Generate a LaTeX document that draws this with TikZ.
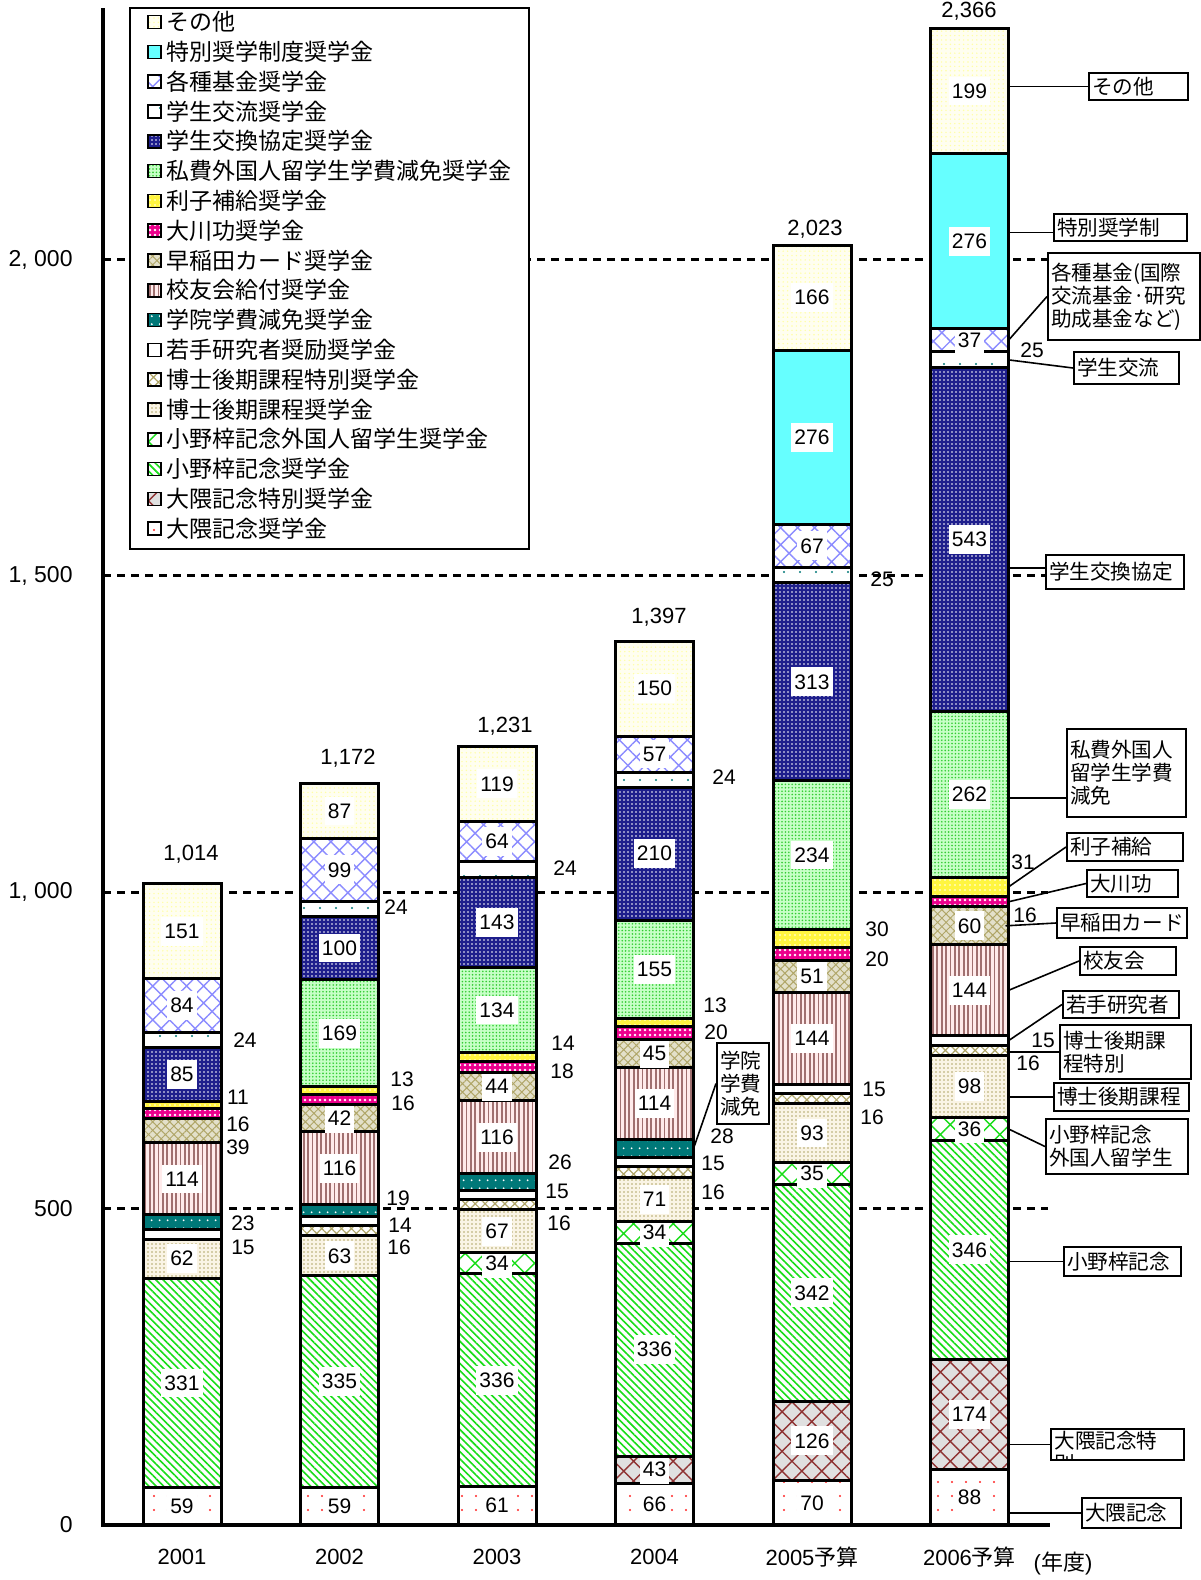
\documentclass[tikz,border=0pt]{standalone}
\usepackage{fontspec}
\setmainfont{Liberation Sans}
\newfontfamily\jp{Noto Sans CJK JP}
\usetikzlibrary{patterns.meta,positioning}

\definecolor{tokuc}{RGB}{102,255,255}
\definecolor{navyc}{RGB}{30,30,140}
\definecolor{tealc}{RGB}{0,120,120}
\definecolor{khakic}{RGB}{176,166,104}
\definecolor{brownc}{RGB}{160,112,112}

\tikzset{
  seg/.style={draw=black, line width=1.5pt},
  gridline/.style={line width=1.5pt, dash pattern=on 4pt off 3pt},
  axisline/.style={line width=2pt},
  numlbl/.style={fill=white, inner xsep=1.5pt, inner ysep=3.5pt, font=\fontsize{10.5}{12}\selectfont},
  sidelbl/.style={inner sep=0pt, font=\fontsize{10.5}{12}\selectfont},
  bigtxt/.style={inner sep=0pt, font=\fontsize{11}{13}\selectfont},
  legtext/.style={anchor=west, inner sep=0pt, font=\jp\fontsize{11.5}{13}\selectfont},
  calltext/.style={inner sep=0pt, align=left, font=\jp\fontsize{10.3}{11.5}\selectfont},
  cbox/.style 2 args={draw, line width=1pt, fill=white, anchor=north west, align=left,
    inner xsep=1.5pt, inner ysep=1pt, text width=#1, minimum height=#2,
    font=\jp\fontsize{10.3}{11.5}\selectfont},
  link/.style={line width=0.8pt},
  % fills of the scholarship kinds
  okuma/.style={preaction={fill=white}, pattern={Dots[distance=7pt,radius=0.6pt]}, pattern color=red!85},
  okumatoku/.style={preaction={fill=black!12}, pattern={Hatch[angle=45,distance=7pt,line width=0.7pt]}, pattern color=red!45!black!80},
  ono/.style={preaction={fill=white}, pattern={Lines[angle=-45,distance=2.6pt,line width=0.8pt]}, pattern color=green!85!black!90},
  onoint/.style={preaction={fill=white}, pattern={Hatch[angle=45,distance=7pt,line width=0.7pt]}, pattern color=green!85!black!90},
  hakase/.style={preaction={fill=yellow!30!brown!12}, pattern={Dots[distance=2pt,radius=0.45pt]}, pattern color=khakic},
  hakasetoku/.style={preaction={fill=white}, pattern={Hatch[angle=45,distance=3.5pt,line width=0.6pt]}, pattern color=khakic},
  wakate/.style={fill=white},
  gakuin/.style={preaction={fill=tealc}, pattern={Dots[distance=4pt,radius=0.55pt]}, pattern color=white},
  koyu/.style={preaction={fill=red!8!white}, pattern={Lines[angle=90,distance=2.2pt,line width=0.9pt]}, pattern color=brownc},
  card/.style={preaction={fill=khakic!35!white}, pattern={Hatch[angle=45,distance=3pt,line width=0.5pt]}, pattern color=khakic},
  okawa/.style={preaction={fill=magenta}, pattern={Dots[distance=2.5pt,radius=0.65pt]}, pattern color=white},
  rishi/.style={preaction={fill=yellow!75!white}, pattern={Dots[distance=2.5pt,radius=0.4pt]}, pattern color=white},
  shihi/.style={preaction={fill=green!22!white}, pattern={Dots[distance=1.7pt,radius=0.45pt]}, pattern color=green!75!black!80},
  kokan/.style={preaction={fill=navyc}, pattern={Dots[distance=2pt,radius=0.4pt]}, pattern color=white},
  koryu/.style={preaction={fill=white}, pattern={Dots[distance=8pt,radius=0.6pt]}, pattern color=tealc},
  kikin/.style={preaction={fill=white}, pattern={Hatch[angle=45,distance=6pt,line width=0.7pt]}, pattern color=blue!45!white},
  tokusho/.style={fill=tokuc},
  sonota/.style={preaction={fill=yellow!6!white}, pattern={Dots[distance=2.2pt,radius=0.4pt]}, pattern color=yellow!35!white},
}

% #1 name, #2 left x, #3 value/style/inner label
\newcommand{\stackbar}[3]{%
  \gdef\cumval{0}%
  \foreach \v/\s/\f in {#3} {%
    \pgfmathsetmacro\ylo{1525-0.6327*\cumval}%
    \pgfmathsetmacro\newcum{\cumval+\v}%
    \pgfmathsetmacro\yhi{1525-0.6327*\newcum}%
    \draw[seg, \s] (#2,\ylo) rectangle (#2+78,\yhi);
    \coordinate (#1-\s) at (#2+78, {(\ylo+\yhi)/2});
    \ifnum\f=1\relax
      \node[numlbl] (#1-\s-n) at (#2+39, {(\ylo+\yhi)/2}) {\v};
    \fi
    \xdef\cumval{\newcum}%
  }%
}

\begin{document}
\begin{tikzpicture}[x=0.5pt, y=-0.5pt]
  \useasboundingbox (0,0) rectangle (1200,1580);

  % grid and ticks
  \foreach \v/\t in {0/0, 500/500, 1000/{1, 000}, 1500/{1, 500}, 2000/{2, 000}} {
    \node[bigtxt, anchor=east, font=\fontsize{11.5}{13}\selectfont] (tick\v) at (73, {1525-0.6327*\v}) {\t};
  }
  \foreach \v in {500,1000,1500,2000} {
    \draw[gridline] (103, {1525-0.6327*\v}) -- (1048, {1525-0.6327*\v});
  }

  % bars
  \stackbar{y1}{143}{59/okuma/1, 331/ono/1, 62/hakase/1, 15/wakate/0, 23/gakuin/0, 114/koyu/1, 39/card/0, 16/okawa/0, 11/rishi/0, 85/kokan/1, 24/koryu/0, 84/kikin/1, 151/sonota/1}
  \stackbar{y2}{300.5}{59/okuma/1, 335/ono/1, 63/hakase/1, 16/hakasetoku/0, 14/wakate/0, 19/gakuin/0, 116/koyu/1, 42/card/1, 16/okawa/0, 13/rishi/0, 169/shihi/1, 100/kokan/1, 24/koryu/0, 99/kikin/1, 87/sonota/1}
  \stackbar{y3}{458}{61/okuma/1, 336/ono/1, 34/onoint/1, 67/hakase/1, 16/hakasetoku/0, 15/wakate/0, 26/gakuin/0, 116/koyu/1, 44/card/1, 18/okawa/0, 14/rishi/0, 134/shihi/1, 143/kokan/1, 24/koryu/0, 64/kikin/1, 119/sonota/1}
  \stackbar{y4}{615.5}{66/okuma/1, 43/okumatoku/1, 336/ono/1, 34/onoint/1, 71/hakase/1, 16/hakasetoku/0, 15/wakate/0, 28/gakuin/0, 114/koyu/1, 45/card/1, 20/okawa/0, 13/rishi/0, 155/shihi/1, 210/kokan/1, 24/koryu/0, 57/kikin/1, 150/sonota/1}
  \stackbar{y5}{773}{70/okuma/1, 126/okumatoku/1, 342/ono/1, 35/onoint/1, 93/hakase/1, 16/hakasetoku/0, 15/wakate/0, 144/koyu/1, 51/card/1, 20/okawa/0, 30/rishi/0, 234/shihi/1, 313/kokan/1, 25/koryu/0, 67/kikin/1, 276/tokusho/1, 166/sonota/1}
  \stackbar{y6}{930.5}{88/okuma/1, 174/okumatoku/1, 346/ono/1, 36/onoint/1, 98/hakase/1, 16/hakasetoku/0, 15/wakate/0, 144/koyu/1, 60/card/1, 16/okawa/0, 31/rishi/0, 262/shihi/1, 543/kokan/1, 25/koryu/0, 37/kikin/1, 276/tokusho/1, 199/sonota/1}

  % axes
  \draw[axisline] (103,8) -- (103,1527);
  \draw[axisline] (101,1525) -- (1050,1525);

  % small values beside the bars
  \foreach \t/\x/\y [count=\k] in {24/245/1040, 11/238/1097, 16/238/1124, 39/238/1147, 23/243/1223, 15/243/1247,
      24/396/907, 13/402/1079, 16/403/1103, 19/398/1198, 14/400/1225, 16/399/1247,
      24/565/868, 14/563/1043, 18/562/1071, 26/560/1162, 15/557/1191, 16/559/1223,
      24/724/777, 13/715/1005, 20/716/1032, 28/722/1136, 15/713/1163, 16/713/1192,
      25/882/579, 30/877/929, 20/877/959, 15/874/1089, 16/872/1117,
      25/1032/350, 31/1023/862, 16/1025/915, 15/1043/1040, 16/1028/1063} {
    \node[sidelbl] (side\k) at (\x,\y) {\t};
  }

  % totals and years
  \node[bigtxt] (tot1) at (191,854) {1,014};
  \node[bigtxt] (tot2) at (348,758) {1,172};
  \node[bigtxt] (tot3) at (505,726) {1,231};
  \node[bigtxt] (tot4) at (659,617) {1,397};
  \node[bigtxt] (tot5) at (815,229) {2,023};
  \node[bigtxt] (tot6) at (969,11) {2,366};
  \node[bigtxt] (yr1) at (182,1557) {2001};
  \node[bigtxt] (yr2) at (339.5,1557) {2002};
  \node[bigtxt] (yr3) at (497,1557) {2003};
  \node[bigtxt] (yr4) at (654.5,1557) {2004};
  \node[bigtxt] (yr5) at (812,1557) {2005{\jp 予算}};
  \node[bigtxt] (yr6) at (969.5,1557) {2006{\jp 予算}};
  \node[bigtxt] (unit) at (1063,1563) {({\jp 年度})};

  % legend
  \node[draw, line width=1pt, fill=white, anchor=north west, minimum width=199.5pt, minimum height=270.5pt, inner sep=0pt] (legend) at (129,7) {};
  \foreach \s/\t [count=\i from 0] in {sonota/その他, tokusho/特別奨学制度奨学金, kikin/各種基金奨学金, koryu/学生交流奨学金,
      kokan/学生交換協定奨学金, shihi/私費外国人留学生学費減免奨学金, rishi/利子補給奨学金, okawa/大川功奨学金,
      card/早稲田カード奨学金, koyu/校友会給付奨学金, gakuin/学院学費減免奨学金, wakate/若手研究者奨励奨学金,
      hakasetoku/博士後期課程特別奨学金, hakase/博士後期課程奨学金, onoint/小野梓記念外国人留学生奨学金,
      ono/小野梓記念奨学金, okumatoku/大隈記念特別奨学金, okuma/大隈記念奨学金} {
    \pgfmathsetmacro\ly{22+29.8*\i}
    \draw[\s, line width=0.8pt] (148,\ly-6.5) rectangle (161,\ly+6.5);
    \node[legtext] (leg-\s) at (166,\ly) {\t};
  }

  % callouts of the 2006 bar
  \node[cbox={46.5pt}{13.5pt}] (c-sonota) at (1088,72) {その他};
  \node[cbox={63.5pt}{13.5pt}] (c-tokusho) at (1053,213) {特別奨学制};
  \node[cbox={73pt}{43.5pt}] (c-kikin) at (1047,252) {各種基金(国際\\交流基金·研究\\助成基金など)};
  \node[cbox={49.5pt}{16pt}] (c-koryu) at (1073,351) {学生交流};
  \node[cbox={66pt}{17pt}] (c-kokan) at (1045,554) {学生交換協定};
  \node[cbox={56.5pt}{44pt}] (c-shihi) at (1066,728) {私費外国人\\留学生学費\\減免};
  \node[cbox={55pt}{14pt}] (c-rishi) at (1066,832) {利子補給};
  \node[cbox={42.5pt}{13.5pt}] (c-okawa) at (1086,869) {大川功};
  \node[cbox={62pt}{15pt}] (c-card) at (1056,907) {早稲田カード};
  \node[cbox={45pt}{14pt}] (c-koyu) at (1079,946) {校友会};
  \node[cbox={55pt}{13.5pt}] (c-wakate) at (1062,990) {若手研究者};
  \node[cbox={62.5pt}{27pt}] (c-hakasetoku) at (1059,1024) {博士後期課\\程特別};
  \node[cbox={64.5pt}{14pt}] (c-hakase) at (1053,1082) {博士後期課程};
  \node[cbox={68pt}{27.5pt}] (c-onoint) at (1045,1118) {小野梓記念\\外国人留学生};
  \node[cbox={55.5pt}{14.5pt}] (c-ono) at (1063,1246) {小野梓記念};
  \node[cbox={63.5pt}{15.5pt}] (c-okumatoku) at (1050,1428) {};
  \begin{scope}
    \clip ([shift={(0.5pt,0.5pt)}]c-okumatoku.south west) rectangle ([shift={(-0.5pt,-0.5pt)}]c-okumatoku.north east);
    \node[calltext, anchor=north west] (c-okumatoku-t) at ([xshift=2pt, yshift=-1.5pt]c-okumatoku.north west) {大隈記念特\\別};
  \end{scope}
  \node[cbox={46.5pt}{15pt}] (c-okuma) at (1081,1497) {大隈記念};
  \node[cbox={23pt}{40.5pt}] (c-gakuin) at (716,1042) {学院\\学費\\減免};

  \draw[link] (c-sonota.west) -- (c-sonota.west -| y6-sonota);
  \draw[link] ([yshift=-2.5pt]c-tokusho.west) -- ([yshift=-2.5pt]c-tokusho.west -| y6-tokusho);
  \draw[link] (c-kikin.west) -- (y6-kikin);
  \draw[link] (c-koryu.west) -- (y6-koryu);
  \draw[link] ([yshift=2pt]c-kokan.west) -- ([yshift=2pt]c-kokan.west -| y6-kokan);
  \draw[link] ([yshift=-12.5pt]c-shihi.west) -- ([yshift=-12.5pt]c-shihi.west -| y6-shihi);
  \draw[link] (c-rishi.west) -- (y6-rishi);
  \draw[link] (c-okawa.west) -- (y6-okawa);
  \draw[link] (c-card.west) -- ([xshift=-1.5pt]y6-card);
  \draw[link] (c-koyu.west) -- (y6-koyu);
  \draw[link] (c-wakate.west) -- (y6-wakate);
  \draw[link] (c-hakasetoku.west) -- (c-hakasetoku.west -| y6-hakasetoku);
  \draw[link] (c-hakase.west) -- (c-hakase.west -| y6-hakase);
  \draw[link] (c-onoint.west) -- (y6-onoint);
  \draw[link] (c-ono.west) -- (c-ono.west -| y6-ono);
  \draw[link] (c-okumatoku.west) -- (c-okumatoku.west -| y6-okumatoku);
  \draw[link] (c-okuma.west) -- (c-okuma.west -| y6-okuma);
  \draw[link] (c-gakuin.west) -- (y4-gakuin);
\end{tikzpicture}
\end{document}
